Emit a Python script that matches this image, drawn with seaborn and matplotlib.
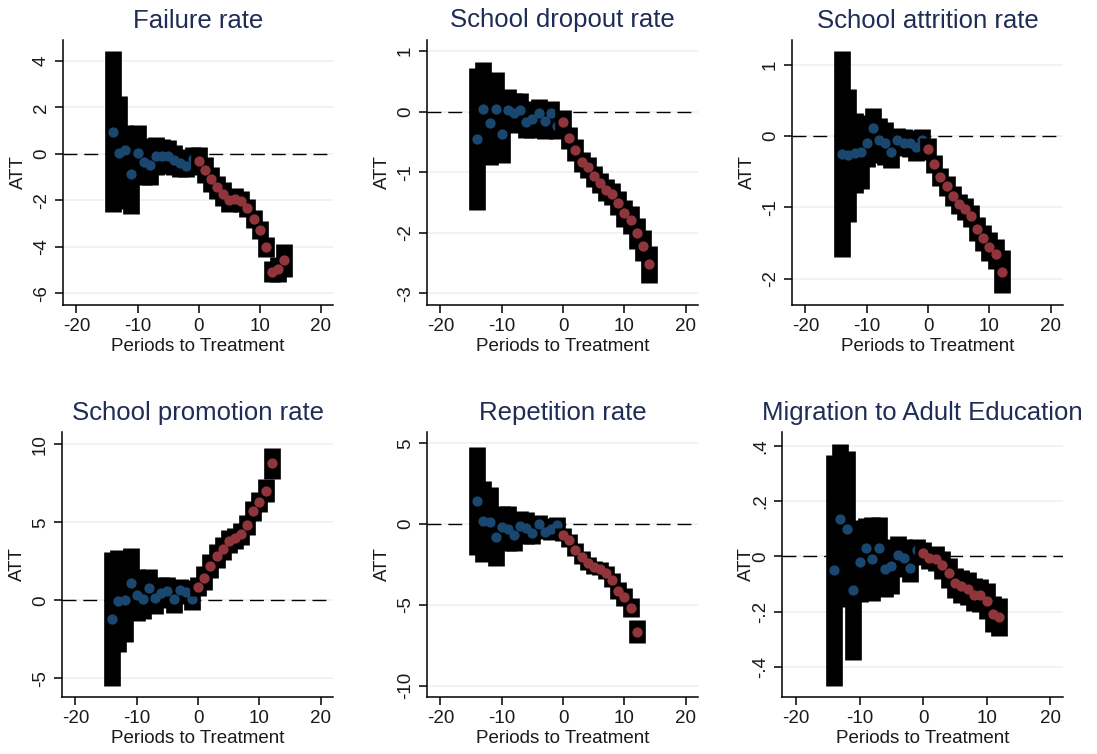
import matplotlib
matplotlib.use('Agg')
import matplotlib.pyplot as plt
import seaborn as sns
import numpy as np
import pandas as pd

# event time
pre_x = list(range(-14, 0))
post_x_long = list(range(0, 15))
post_x_short = list(range(0, 13))

# Failure rate
fail_pre = [0.95, 0.06, 0.16, -0.87, 0.03, -0.33, -0.46, -0.09, -0.10, -0.10, -0.27, -0.39, -0.50, -0.20]
fail_pre_ci = [3.46, 2.44, 1.10, 1.73, 1.23, 1.00, 0.89, 0.82, 0.75, 0.69, 0.65, 0.60, 0.50, 0.50]
fail_post = [-0.30, -0.70, -1.10, -1.43, -1.73, -1.99, -1.92, -2.04, -2.32, -2.80, -3.28, -4.00, -5.06, -4.97, -4.57]
fail_post_ci = [0.60, 0.55, 0.55, 0.50, 0.50, 0.50, 0.45, 0.45, 0.40, 0.40, 0.38, 0.43, 0.45, 0.53, 0.71]

# School dropout rate
drop_pre = [-0.45, 0.04, -0.19, 0.04, -0.37, 0.03, -0.03, 0.03, -0.18, -0.13, -0.03, -0.15, -0.03, -0.23]
drop_pre_ci = [1.17, 0.77, 0.69, 0.62, 0.48, 0.34, 0.33, 0.27, 0.26, 0.30, 0.23, 0.30, 0.20, 0.23]
drop_post = [-0.18, -0.43, -0.64, -0.83, -0.92, -1.07, -1.18, -1.29, -1.36, -1.51, -1.68, -1.79, -2.01, -2.21, -2.52]
drop_post_ci = [0.20, 0.18, 0.18, 0.17, 0.17, 0.17, 0.17, 0.18, 0.18, 0.20, 0.22, 0.23, 0.25, 0.25, 0.30]

# School attrition rate
attr_pre = [-0.25, -0.27, -0.24, -0.22, -0.09, 0.11, -0.06, -0.10, -0.22, -0.05, -0.09, -0.10, -0.15, -0.06]
attr_pre_ci = [1.44, 0.93, 0.56, 0.52, 0.34, 0.29, 0.32, 0.30, 0.22, 0.16, 0.19, 0.19, 0.20, 0.16]
attr_post = [-0.18, -0.39, -0.57, -0.70, -0.84, -0.95, -1.02, -1.12, -1.30, -1.43, -1.55, -1.66, -1.90]
attr_post_ci = [0.15, 0.13, 0.13, 0.14, 0.14, 0.14, 0.15, 0.16, 0.17, 0.18, 0.20, 0.21, 0.30]

# School promotion rate
prom_pre = [-1.18, -0.04, 0.00, 1.09, 0.36, 0.09, 0.77, 0.17, 0.49, 0.60, 0.11, 0.64, 0.53, 0.09]
prom_pre_ci = [4.30, 3.25, 2.70, 2.30, 1.68, 1.30, 1.22, 1.05, 1.00, 0.90, 0.90, 0.70, 0.75, 0.71]
prom_post = [0.88, 1.43, 2.20, 2.84, 3.31, 3.78, 3.97, 4.25, 4.83, 5.75, 6.32, 7.03, 8.78]
prom_post_ci = [0.60, 0.75, 0.75, 0.75, 0.75, 0.75, 0.70, 0.70, 0.65, 0.65, 0.65, 0.73, 0.97]

# Repetition rate
rep_pre = [1.43, 0.17, 0.14, -0.79, -0.19, -0.29, -0.68, -0.14, -0.25, -0.52, 0.00, -0.50, -0.29, -0.04]
rep_pre_ci = [3.34, 2.52, 2.15, 1.79, 1.33, 1.40, 1.00, 0.93, 0.97, 0.70, 0.58, 0.45, 0.68, 0.45]
rep_post = [-0.66, -1.01, -1.59, -2.05, -2.42, -2.67, -2.77, -3.00, -3.45, -4.11, -4.52, -5.17, -6.65]
rep_post_ci = [0.40, 0.40, 0.40, 0.40, 0.40, 0.40, 0.40, 0.40, 0.45, 0.50, 0.55, 0.57, 0.70]

# Migration to Adult Education
mig_pre = [-0.050, 0.137, 0.100, -0.121, -0.019, 0.029, -0.008, 0.031, -0.045, -0.036, 0.005, -0.005, -0.040, 0.022]
mig_pre_ci = [0.419, 0.272, 0.282, 0.255, 0.145, 0.110, 0.152, 0.113, 0.100, 0.100, 0.070, 0.070, 0.053, 0.042]
mig_post = [0.011, -0.005, -0.008, -0.031, -0.059, -0.097, -0.108, -0.116, -0.139, -0.141, -0.162, -0.207, -0.219]
mig_post_ci = [0.040, 0.040, 0.045, 0.050, 0.055, 0.055, 0.060, 0.060, 0.060, 0.060, 0.065, 0.065, 0.068]

titles = ["Failure rate", "School dropout rate", "School attrition rate",
          "School promotion rate", "Repetition rate", "Migration to Adult Education"]
yticks = [[-6, -4, -2, 0, 2, 4], [-3, -2, -1, 0, 1], [-2, -1, 0, 1],
          [-5, 0, 5, 10], [-10, -5, 0, 5], [-0.4, -0.2, 0, 0.2, 0.4]]
ytick_labels = [["-6", "-4", "-2", "0", "2", "4"], ["-3", "-2", "-1", "0", "1"],
                ["-2", "-1", "0", "1"], ["-5", "0", "5", "10"], ["-10", "-5", "0", "5"],
                ["-.4", "-.2", "0", ".2", ".4"]]
xticks = [-20, -10, 0, 10, 20]

panels = [
    (fail_pre, fail_pre_ci, post_x_long, fail_post, fail_post_ci),
    (drop_pre, drop_pre_ci, post_x_long, drop_post, drop_post_ci),
    (attr_pre, attr_pre_ci, post_x_short, attr_post, attr_post_ci),
    (prom_pre, prom_pre_ci, post_x_short, prom_post, prom_post_ci),
    (rep_pre, rep_pre_ci, post_x_short, rep_post, rep_post_ci),
    (mig_pre, mig_pre_ci, post_x_short, mig_post, mig_post_ci),
]

# layout (pixels) and axis limits
W, H = 1097, 754
boxes = [(63, 333, 40, 305), (427, 698, 40, 305), (792, 1063, 40, 305),
         (62, 333, 432, 697), (427, 698, 432, 697), (782, 1063, 432, 697)]
ylims = [(-6.5, 4.9), (-3.19, 1.18), (-2.37, 1.35), (-6.2, 10.8), (-10.7, 5.7), (-0.509, 0.451)]
label_off = [36, 36, 36, 36, 36, 27]

BLUE = '#1a476f'
RED = '#90353b'
TITLE = '#1f2c55'

sns.set_theme(style='white')
plt.rcParams['font.family'] = ['Liberation Sans', 'DejaVu Sans']

fig = plt.figure(figsize=(W / 100, H / 100), dpi=100)

for i, (pre, pre_ci, post_x, post, post_ci) in enumerate(panels):
    l, r, t, b = boxes[i]
    ax = fig.add_axes([l / W, 1 - b / H, (r - l) / W, (b - t) / H])
    df_pre = pd.DataFrame({'t': pre_x, 'att': pre, 'ci': pre_ci})
    df_post = pd.DataFrame({'t': post_x, 'att': post, 'ci': post_ci})

    for y in yticks[i]:
        ax.axhline(y, color='#eaf2f3', lw=1.2, zorder=0)
    ax.axhline(0, color='black', lw=1.0, dashes=(10, 5), zorder=1)

    # pre-period CIs and estimates, then post-period on top
    ax.vlines(df_pre['t'], df_pre['att'] - df_pre['ci'], df_pre['att'] + df_pre['ci'],
              color='black', lw=12, zorder=2)
    sns.scatterplot(data=df_pre, x='t', y='att', color=BLUE, s=55, linewidth=0, ax=ax, zorder=3)
    ax.vlines(df_post['t'], df_post['att'] - df_post['ci'], df_post['att'] + df_post['ci'],
              color='black', lw=12, zorder=4)
    sns.scatterplot(data=df_post, x='t', y='att', color=RED, s=55, linewidth=0, ax=ax, zorder=5)

    ax.set_xlim(-22.2, 22)
    ax.set_ylim(*ylims[i])
    ax.set_xticks(xticks)
    ax.set_xticklabels([str(v) for v in xticks], fontsize=13.5)
    ax.set_yticks(yticks[i])
    ax.set_yticklabels(ytick_labels[i], rotation=90, va='center', fontsize=13.5)
    ax.tick_params(axis='both', direction='out', length=5.5, width=1.1, color='black',
                   pad=4, left=True, bottom=True, labelcolor='#1a1a1a')
    for side in ['top', 'right']:
        ax.spines[side].set_visible(False)
    for side in ['left', 'bottom']:
        ax.spines[side].set_color('black')
        ax.spines[side].set_linewidth(1.1)
    ax.set_xlabel('Periods to Treatment', fontsize=13.5, color='#1a1a1a', labelpad=2)
    ax.set_ylabel('ATT', fontsize=13.5, color='#1a1a1a')
    ax.yaxis.set_label_coords(-label_off[i] / (r - l), 0.5)
    ax.set_title(titles[i], fontsize=18.5, color=TITLE, pad=9)

fig.savefig('out.png', dpi=100)
